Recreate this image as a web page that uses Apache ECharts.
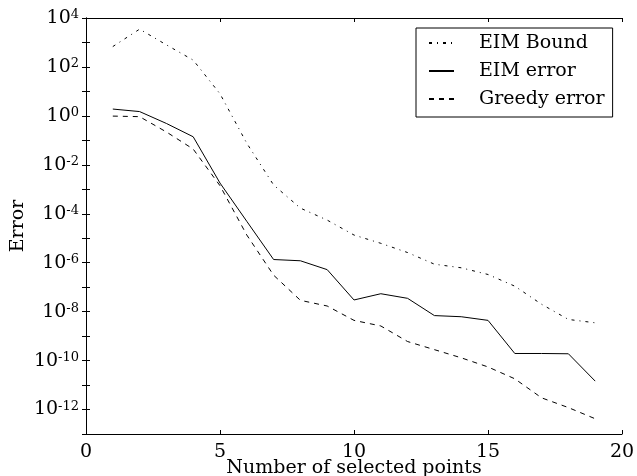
<!DOCTYPE html>
<html>
<head>
<meta charset="utf-8">
<script src="https://cdn.jsdelivr.net/npm/echarts@6/dist/echarts.min.js"></script>
<style>
html,body{margin:0;padding:0;background:#fff;}
#chart{width:637px;height:476px;}
</style>
</head>
<body>
<div id="chart"></div>
<script>
const xPoints = [1,2,3,4,5,6,7,8,9,10,11,12,13,14,15,16,17,18,19];
const eimBound = [6.8e2, 3.5e3, 8.0e2, 1.9e2, 8.0, 7.6e-2, 1.5e-3, 1.7e-4, 5.5e-5, 1.35e-5, 6.2e-6, 2.6e-6, 8.7e-7, 6.2e-7, 3.3e-7, 1.1e-7, 2.0e-8, 4.8e-9, 3.5e-9];
const eimError = [1.9, 1.5, 0.49, 0.14, 1.8e-3, 4.9e-5, 1.35e-6, 1.2e-6, 5.2e-7, 3.0e-8, 5.4e-8, 3.5e-8, 6.9e-9, 6.2e-9, 4.4e-9, 1.95e-10, 1.95e-10, 1.9e-10, 1.45e-11];
const greedyError = [0.98, 0.93, 0.22, 4.4e-2, 1.4e-3, 1.35e-5, 3.1e-7, 2.9e-8, 1.7e-8, 4.4e-9, 2.6e-9, 6.0e-10, 2.8e-10, 1.3e-10, 5.5e-11, 1.8e-11, 3.0e-12, 1.2e-12, 4.2e-13];
const seriesNames = ['EIM Bound', 'EIM error', 'Greedy error'];
const xTitle = 'Number of selected points';
const yTitle = 'Error';

const FONT = 'DejaVu Serif';
const chart = echarts.init(document.getElementById('chart'));

function pairs(ys){ return xPoints.map((x,i)=>[x, ys[i]]); }

function yLabel(v){
  const e = Math.round(Math.log10(v));
  if (e % 2 !== 0) return '';
  return '{b|10}{s|' + e + '}';
}

const axisLineStyle = {color:'#000', width:1};
const richY = {
  b:{fontFamily:FONT, fontSize:19, color:'#000', verticalAlign:'bottom'},
  s:{fontFamily:FONT, fontSize:13, color:'#000', verticalAlign:'top'}
};

chart.setOption({
  animation:false,
  backgroundColor:'#fff',
  grid:{left:86, right:15, top:18, bottom:42, containLabel:false, outerBoundsMode:'none'},
  legend:{
    left:416, top:28, orient:'vertical',
    data:seriesNames,
    itemWidth:25, itemHeight:10, itemGap:8,
    borderColor:'#000', borderWidth:1, borderRadius:0,
    padding:[5,8,8,12],
    itemStyle:{opacity:0},
    textStyle:{fontFamily:FONT, fontSize:19, color:'#000', lineHeight:20, padding:[0,0,0,20]},
    inactiveColor:'#000'
  },
  xAxis:[
    {type:'value', min:0, max:20, interval:5, position:'bottom',
     name:xTitle, nameLocation:'middle', nameGap:25, nameMoveOverlap:false,
     nameTextStyle:{fontFamily:FONT, fontSize:19, color:'#000'},
     axisLine:{show:true, lineStyle:axisLineStyle},
     axisTick:{show:true, inside:true, length:4, lineStyle:axisLineStyle},
     axisLabel:{fontFamily:FONT, fontSize:19, color:'#000', margin:9},
     splitLine:{show:false}},
    {type:'value', min:0, max:20, interval:5, position:'top',
     axisLine:{show:true, lineStyle:axisLineStyle},
     axisTick:{show:true, inside:true, length:4, lineStyle:axisLineStyle},
     axisLabel:{show:false}, splitLine:{show:false}}
  ],
  yAxis:[
    {type:'log', logBase:10, min:1e-13, max:1e4, interval:1, position:'left',
     name:yTitle, nameLocation:'middle', nameGap:58, nameRotate:90, nameMoveOverlap:false,
     nameTextStyle:{fontFamily:FONT, fontSize:19, color:'#000'},
     axisLine:{show:true, lineStyle:axisLineStyle},
     axisTick:{show:true, inside:true, length:4, lineStyle:axisLineStyle},
     axisLabel:{formatter:yLabel, rich:richY, margin:7, showMinLabel:true, showMaxLabel:true},
     splitLine:{show:false}},
    {type:'log', logBase:10, min:1e-13, max:1e4, interval:1, position:'right',
     axisLine:{show:true, lineStyle:axisLineStyle},
     axisTick:{show:true, inside:true, length:4, lineStyle:axisLineStyle},
     axisLabel:{show:false}, splitLine:{show:false}}
  ],
  series:[
    {name:seriesNames[0], type:'line', data:pairs(eimBound), symbol:'none', showSymbol:false,
     xAxisIndex:0, yAxisIndex:0,
     lineStyle:{color:'#000', width:1, type:[3,5,1,5]}, itemStyle:{color:'#000'}},
    {name:seriesNames[1], type:'line', data:pairs(eimError), symbol:'none', showSymbol:false,
     xAxisIndex:0, yAxisIndex:0,
     lineStyle:{color:'#000', width:1, type:'solid'}, itemStyle:{color:'#000'}},
    {name:seriesNames[2], type:'line', data:pairs(greedyError), symbol:'none', showSymbol:false,
     xAxisIndex:0, yAxisIndex:0,
     lineStyle:{color:'#000', width:1, type:[5,5]}, itemStyle:{color:'#000'}}
  ]
});
</script>
</body>
</html>
